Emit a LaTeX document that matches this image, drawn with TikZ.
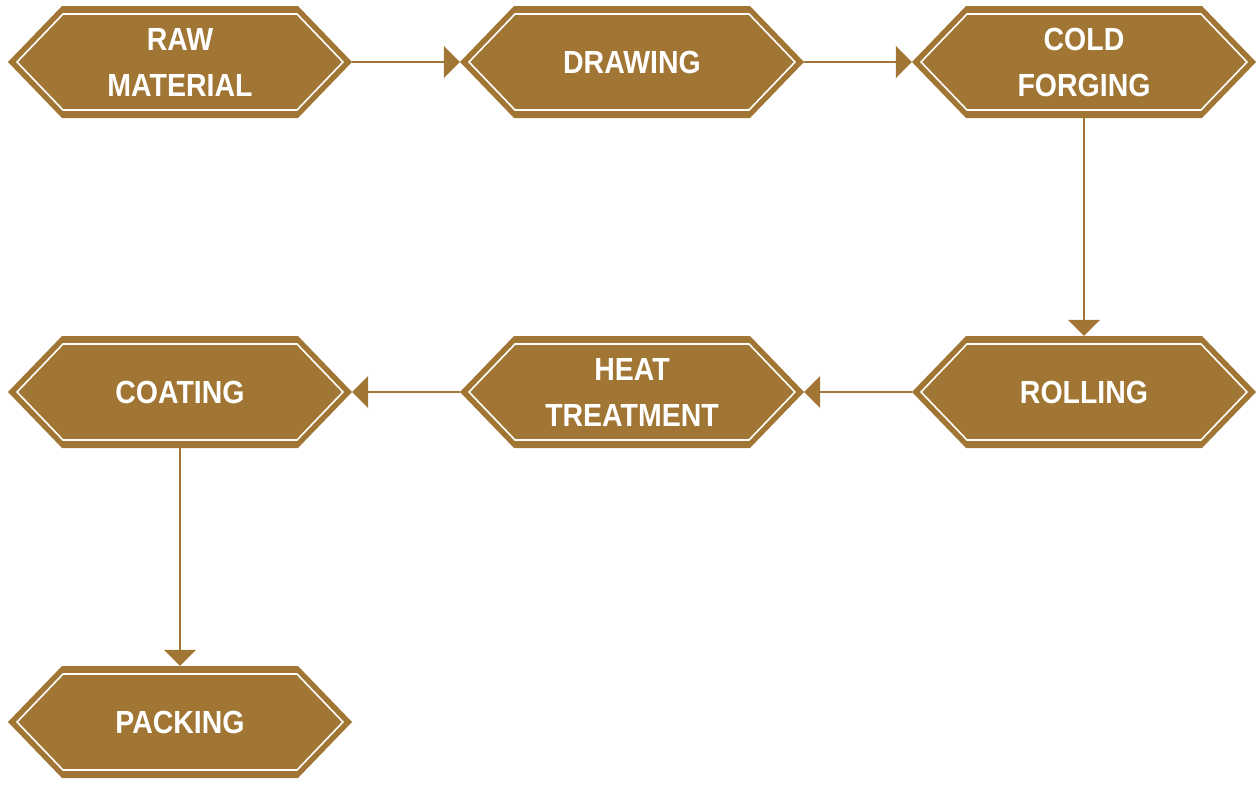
\documentclass[tikz,border=0pt]{standalone}
\usepackage{fontspec}
\newfontfamily\lblfont[FakeStretch=0.89]{Liberation Sans}
\usetikzlibrary{arrows.meta}
\definecolor{bronze}{HTML}{A17634}
\tikzset{
  stepbox/.style={rectangle, minimum width=344pt, minimum height=112pt, inner sep=0pt,
    text=white, align=center, font=\lblfont\bfseries\fontsize{32pt}{46pt}\selectfont,
    path picture={
      \fill[bronze] (path picture bounding box.west)
        -- ([xshift=54pt]path picture bounding box.north west)
        -- ([xshift=-54pt]path picture bounding box.north east)
        -- (path picture bounding box.east)
        -- ([xshift=-54pt]path picture bounding box.south east)
        -- ([xshift=54pt]path picture bounding box.south west) -- cycle;
      \draw[white, line width=1.6pt, line join=miter]
        ([xshift=9pt]path picture bounding box.west)
        -- ([xshift=55pt,yshift=-8pt]path picture bounding box.north west)
        -- ([xshift=-55pt,yshift=-8pt]path picture bounding box.north east)
        -- ([xshift=-9pt]path picture bounding box.east)
        -- ([xshift=-55pt,yshift=8pt]path picture bounding box.south east)
        -- ([xshift=55pt,yshift=8pt]path picture bounding box.south west) -- cycle;
    }},
  flow/.style={draw=bronze, line width=2pt, -{Triangle[length=16pt,width=32pt]}}
}
\begin{document}
\begin{tikzpicture}[x=1pt,y=-1pt]
\useasboundingbox (0,0) rectangle (1256,787);
\node[stepbox] (raw) at (180,62) {RAW\\MATERIAL};
\node[stepbox] (drawing) at (632,62) {DRAWING};
\node[stepbox] (cold) at (1084,62) {COLD\\FORGING};
\node[stepbox] (rolling) at (1084,392) {ROLLING};
\node[stepbox] (heat) at (632,392) {HEAT\\TREATMENT};
\node[stepbox] (coating) at (180,392) {COATING};
\node[stepbox] (packing) at (180,722) {PACKING};
\draw[flow] (raw.east) -- (drawing.west);
\draw[flow] (drawing.east) -- (cold.west);
\draw[flow] (cold.south) -- (rolling.north);
\draw[flow] (rolling.west) -- (heat.east);
\draw[flow] (heat.west) -- (coating.east);
\draw[flow] (coating.south) -- (packing.north);
\end{tikzpicture}
\end{document}
